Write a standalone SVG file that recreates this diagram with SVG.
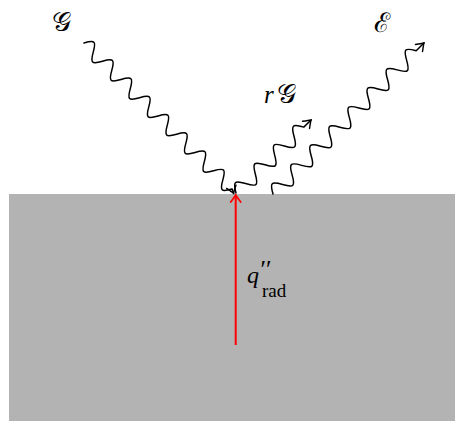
<svg xmlns="http://www.w3.org/2000/svg" width="455" height="421" viewBox="0 0 455 421">
<style>
.wave{fill:none;stroke:#000;stroke-width:1.5;stroke-linecap:round;stroke-linejoin:round}
.lbl{font-family:"DejaVu Serif","Liberation Serif",serif;fill:#000}
.it{font-family:"Liberation Serif",serif;font-style:italic;fill:#000}
.rm{font-family:"Liberation Serif",serif;fill:#000}
</style>
<defs>
<marker id="ah" markerUnits="userSpaceOnUse" markerWidth="16" markerHeight="16" viewBox="-9 -8 11 16" refX="0" refY="0" orient="auto" overflow="visible">
<path d="M-7,-5 Q-2,-1.2 0,0 Q-2,1.2 -7,5" fill="none" stroke="#000" stroke-width="1.4" stroke-linecap="round"/>
</marker>
<marker id="ahr" markerUnits="userSpaceOnUse" markerWidth="16" markerHeight="16" viewBox="-9 -8 11 16" refX="0" refY="0" orient="auto" overflow="visible">
<path d="M-7,-5 Q-2,-1.2 0,0 Q-2,1.2 -7,5" fill="none" stroke="#ff0000" stroke-width="1.8" stroke-linecap="round"/>
</marker>
</defs>
<g id="surface">
<rect x="9" y="194" width="446" height="227" fill="#b3b3b3"/>
</g>
<g id="connectors">
<path id="incident" class="wave" marker-end="url(#ah)" transform="translate(84,43) rotate(44.6)" d="M0,0 c2.12,-3.84 4.15,-7.5 6.5,-7.5 c2.35,0 4.38,3.66 6.5,7.5 c2.12,3.84 4.15,7.5 6.5,7.5 c2.35,0 4.38,-3.66 6.5,-7.5 c2.12,-3.84 4.15,-7.5 6.5,-7.5 c2.35,0 4.38,3.66 6.5,7.5 c2.12,3.84 4.15,7.5 6.5,7.5 c2.35,0 4.38,-3.66 6.5,-7.5 c2.12,-3.84 4.15,-7.5 6.5,-7.5 c2.35,0 4.38,3.66 6.5,7.5 c2.12,3.84 4.15,7.5 6.5,7.5 c2.35,0 4.38,-3.66 6.5,-7.5 c2.12,-3.84 4.15,-7.5 6.5,-7.5 c2.35,0 4.38,3.66 6.5,7.5 c2.12,3.84 4.15,7.5 6.5,7.5 c2.35,0 4.38,-3.66 6.5,-7.5 c2.12,-3.84 4.15,-7.5 6.5,-7.5 c2.35,0 4.38,3.66 6.5,7.5 c2.12,3.84 4.15,7.5 6.5,7.5 c2.35,0 4.38,-3.66 6.5,-7.5 c2.12,-3.84 4.15,-7.5 6.5,-7.5 c2.35,0 4.38,3.66 6.5,7.5 c2.12,3.84 4.15,7.5 6.5,7.5 c2.35,0 4.38,-3.66 6.5,-7.5 c2.12,-3.84 4.15,-7.5 6.5,-7.5 c2.35,0 4.38,3.66 6.5,7.5 c2.12,3.84 4.15,7.5 6.5,7.5 c2.35,0 4.38,-3.66 6.5,-7.5 c2.12,-3.84 4.15,-7.5 6.5,-7.5 c2.35,0 4.38,3.66 6.5,7.5 c2.12,3.84 4.15,7.5 6.5,7.5 c2.35,0 4.38,-3.66 6.5,-7.5 L212.1,2"/>
<path id="reflected" class="wave" marker-end="url(#ah)" transform="translate(236,193) rotate(-44.2)" d="M0,0 c2.2,-4 4.31,-7.8 6.75,-7.8 c2.44,0 4.55,3.8 6.75,7.8 c2.2,4 4.31,7.8 6.75,7.8 c2.44,0 4.55,-3.8 6.75,-7.8 c2.2,-4 4.31,-7.8 6.75,-7.8 c2.44,0 4.55,3.8 6.75,7.8 c2.2,4 4.31,7.8 6.75,7.8 c2.44,0 4.55,-3.8 6.75,-7.8 c2.2,-4 4.31,-7.8 6.75,-7.8 c2.44,0 4.55,3.8 6.75,7.8 c2.2,4 4.31,7.8 6.75,7.8 c2.44,0 4.55,-3.8 6.75,-7.8 c2.2,-4 4.31,-7.8 6.75,-7.8 c2.44,0 4.55,3.8 6.75,7.8 L104.7,0"/>
<path id="emitted" class="wave" marker-end="url(#ah)" transform="translate(273,194) rotate(-45)" d="M0,0 c2.2,-4 4.31,-7.8 6.75,-7.8 c2.44,0 4.55,3.8 6.75,7.8 c2.2,4 4.31,7.8 6.75,7.8 c2.44,0 4.55,-3.8 6.75,-7.8 c2.2,-4 4.31,-7.8 6.75,-7.8 c2.44,0 4.55,3.8 6.75,7.8 c2.2,4 4.31,7.8 6.75,7.8 c2.44,0 4.55,-3.8 6.75,-7.8 c2.2,-4 4.31,-7.8 6.75,-7.8 c2.44,0 4.55,3.8 6.75,7.8 c2.2,4 4.31,7.8 6.75,7.8 c2.44,0 4.55,-3.8 6.75,-7.8 c2.2,-4 4.31,-7.8 6.75,-7.8 c2.44,0 4.55,3.8 6.75,7.8 c2.2,4 4.31,7.8 6.75,7.8 c2.44,0 4.55,-3.8 6.75,-7.8 c2.2,-4 4.31,-7.8 6.75,-7.8 c2.44,0 4.55,3.8 6.75,7.8 c2.2,4 4.31,7.8 6.75,7.8 c2.44,0 4.55,-3.8 6.75,-7.8 c2.2,-4 4.31,-7.8 6.75,-7.8 c2.44,0 4.55,3.8 6.75,7.8 c2.2,4 4.31,7.8 6.75,7.8 c2.44,0 4.55,-3.8 6.75,-7.8 c2.2,-4 4.31,-7.8 6.75,-7.8 c2.44,0 4.55,3.8 6.75,7.8 c2.2,4 4.31,7.8 6.75,7.8 c2.44,0 4.55,-3.8 6.75,-7.8 c2.2,-4 4.31,-7.8 6.75,-7.8 c2.44,0 4.55,3.8 6.75,7.8 L213.5,0"/>
<path id="flux" d="M235.7,345 L235.7,195" fill="none" stroke="#ff0000" stroke-width="2" marker-end="url(#ahr)"/>
</g>
<g id="label-G"><text class="lbl" x="52" y="31" font-size="27">𝒢</text></g>
<g id="label-rG"><text x="264" y="103" font-size="25"><tspan class="it">r</tspan><tspan class="lbl" dx="3" font-size="27">𝒢</tspan></text></g>
<g id="label-E"><text class="lbl" x="374" y="32" font-size="27">ℰ</text></g>
<g id="label-q"><text x="247" y="283" font-size="24"><tspan class="it">q</tspan><tspan class="it" x="259" y="278" font-size="25">′′</tspan><tspan class="rm" x="262" y="297" font-size="19">rad</tspan></text></g>
</svg>
